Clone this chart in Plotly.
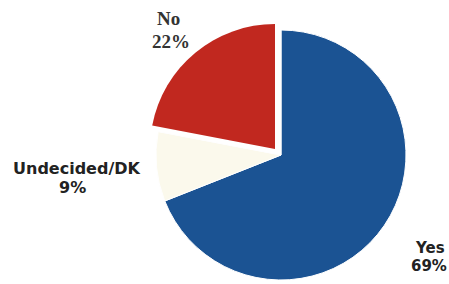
import plotly.graph_objects as go

labels = ["Yes", "Undecided/DK", "No"]
values = [69, 9, 22]
colors = ["#1b5393", "#fbf9ec", "#c1281f"]
pulled = [False, False, True]

W, H = 449, 284

def dom(cx, cy, r):
    return dict(x=[(cx - r) / W, (cx + r) / W], y=[(H - (cy + r)) / H, (H - (cy - r)) / H])

def pt(x, y):
    return x / W, 1 - y / H

base_colors = [c if not p else "rgba(0,0,0,0)" for c, p in zip(colors, pulled)]
pull_colors = [c if p else "rgba(0,0,0,0)" for c, p in zip(colors, pulled)]

fig = go.Figure()
common = dict(labels=labels, values=values, sort=False, direction="clockwise", rotation=0,
              textinfo="none", hoverinfo="label+percent", showlegend=False)
fig.add_trace(go.Pie(**common, domain=dom(281, 155, 125),
                     marker=dict(colors=base_colors, line=dict(color="white", width=1))))
fig.add_trace(go.Pie(**common, domain=dom(275, 149, 125),
                     marker=dict(colors=pull_colors, line=dict(color="rgba(0,0,0,0)", width=0))))

# label positions (px): name line, percent line
pos = {
    "Yes": ((430, 248), (429, 266)),
    "Undecided/DK": ((77, 168), (72, 187)),
    "No": ((168, 18), (171, 41)),
}
fonts = {
    "Yes": dict(family="DejaVu Sans", size=15, color="#222222"),
    "Undecided/DK": dict(family="DejaVu Sans", size=16, color="#222222"),
    "No": dict(family="Liberation Serif", size=19, color="#333333"),
}
for lab, val in zip(labels, values):
    (nx, ny), (px, py) = pos[lab]
    ax, ay = pt(nx, ny)
    fig.add_annotation(x=ax, y=ay, xref="paper", yref="paper", text=f"<b>{lab}</b>",
                       showarrow=False, font=fonts[lab], xanchor="center", yanchor="middle")
    bx, by = pt(px, py)
    fig.add_annotation(x=bx, y=by, xref="paper", yref="paper", text=f"<b>{val}%</b>",
                       showarrow=False, font=fonts[lab], xanchor="center", yanchor="middle")

fig.update_layout(width=W, height=H, margin=dict(l=0, r=0, t=0, b=0),
                  paper_bgcolor="white", plot_bgcolor="white")
fig.write_html("out.html", config={"displayModeBar": False},
               post_script="document.body.style.margin='0';document.body.style.overflow='hidden';")
